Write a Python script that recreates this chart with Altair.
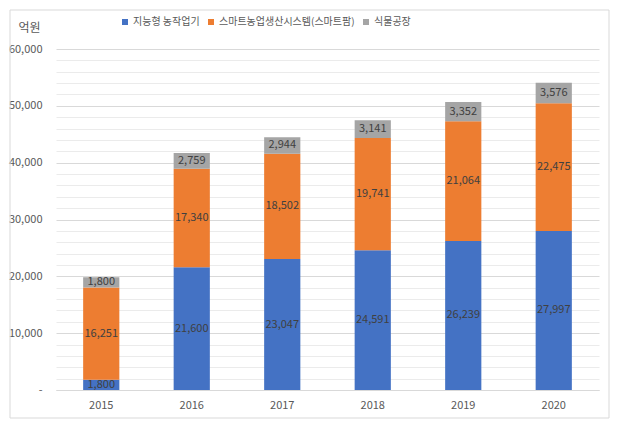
import altair as alt
import pandas as pd

years = ["2015", "2016", "2017", "2018", "2019", "2020"]
series = ["지능형 농작업기", "스마트농업생산시스템(스마트팜)", "식물공장"]
blue_vals = [1800, 21600, 23047, 24591, 26239, 27997]
orange_vals = [16251, 17340, 18502, 19741, 21064, 22475]
gray_vals = [1800, 2759, 2944, 3141, 3352, 3576]
colors = ["#4472C4", "#ED7D31", "#A5A5A5"]
major_ticks = [0, 10000, 20000, 30000, 40000, 50000, 60000]
minor_ticks = [v for v in range(0, 60001, 2000) if v % 10000 != 0]

rows = []
for i, y in enumerate(years):
    for k, vals in enumerate([blue_vals, orange_vals, gray_vals]):
        rows.append({"year": y, "series": series[k], "order": k, "value": vals[i]})
df = pd.DataFrame(rows)

FONT = "Noto Sans CJK KR"
W, H = 543, 341

xenc = alt.X("year:N", sort=years,
             scale=alt.Scale(paddingInner=0.6, paddingOuter=0.3),
             axis=alt.Axis(title=None, ticks=False, domain=True, domainColor="#d9d9d9",
                           labelColor="#595959", labelFontSize=11, labelFont=FONT,
                           labelPadding=9, labelAngle=0))
yscale = alt.Scale(domain=[0, 60000], nice=False)

base = alt.Chart(df)

minor = alt.Chart(df).mark_bar(opacity=0).encode(
    x=xenc,
    y=alt.Y("value:Q", stack="zero", scale=yscale,
            axis=alt.Axis(values=minor_ticks, labels=False, ticks=False, domain=False,
                          grid=True, gridColor="#ebebeb", gridWidth=1, title=None,
                          orient="left")),
)

bars = base.mark_bar().encode(
    x=xenc,
    y=alt.Y("value:Q", stack="zero", scale=yscale,
            axis=alt.Axis(values=major_ticks, grid=True, gridColor="#d9d9d9",
                          ticks=False, domain=False, labelColor="#595959",
                          labelFontSize=11, labelFont=FONT, labelPadding=14,
                          labelExpr="datum.value == 0 ? '-' : format(datum.value, ',')",
                          title="억원", titleAngle=0, titleX=-27, titleY=-22,
                          titleAlign="center", titleBaseline="middle",
                          titleFont=FONT, titleFontSize=12, titleFontWeight="normal",
                          titleColor="#595959", orient="left")),
    color=alt.Color("series:N", sort=series,
                    scale=alt.Scale(domain=series, range=colors),
                    legend=alt.Legend(title=None, orient="none", direction="horizontal",
                                      legendX=64, legendY=-32, symbolType="square",
                                      symbolSize=36, labelFontSize=10, labelFont=FONT,
                                      labelColor="#595959", columnPadding=6,
                                      symbolStrokeWidth=0, labelOffset=3)),
    order=alt.Order("order:Q", sort="ascending"),
)

labels = base.transform_stack(
    stack="value", groupby=["year"], as_=["y0", "y1"],
    sort=[alt.SortField("order", order="ascending")]
).transform_calculate(
    mid="(datum.y0 + datum.y1) / 2"
).mark_text(font=FONT, fontSize=11, color="#404040").encode(
    x=alt.X("year:N", sort=years),
    y=alt.Y("mid:Q", scale=yscale, axis=None),
    text=alt.Text("value:Q", format=","),
)

border = alt.Chart(alt.Data(values=[{}])).mark_rect(
    fill=None, stroke="#d9d9d9", strokeWidth=1
).encode(
    x=alt.value(-46), x2=alt.value(W + 10),
    y=alt.value(-39), y2=alt.value(H + 28),
)

chart = alt.layer(minor, bars, labels, border).resolve_axis(y="independent").properties(
    width=W, height=H,
    autosize=alt.AutoSizeParams(type="none"),
    padding={"left": 48, "top": 41, "right": 14, "bottom": 30},
    background="white",
).configure_view(stroke=None)

chart.save("out.html", embed_options={"renderer": "svg", "actions": False})
